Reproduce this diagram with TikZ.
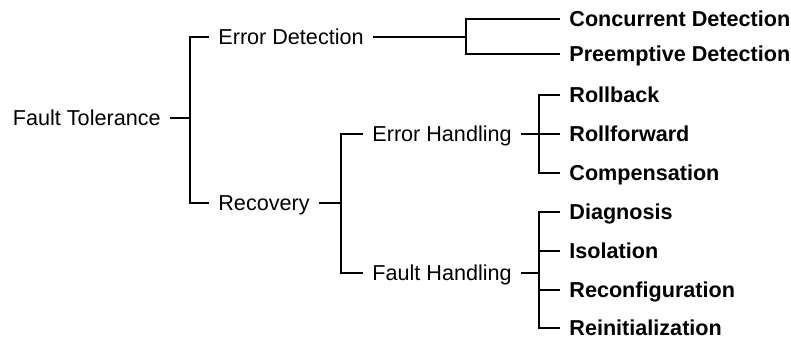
\documentclass[tikz,border=0pt]{standalone}
\usepackage{fontspec}
\setmainfont{Liberation Sans}
\usetikzlibrary{positioning}

\begin{document}
\begin{tikzpicture}[x = .5pt, y = -.5pt,
    lbl/.style = {font = \fontsize{10.8}{12}\selectfont, inner xsep = 4.5pt, inner ysep = 0pt, text height = 7.7pt, text depth = 0pt},
    mid/.style = {lbl, anchor = west},
    leaf/.style = {lbl, anchor = west, font = \fontsize{10.8}{12}\selectfont\bfseries},
    br/.style = {line width = .8pt}]
    \useasboundingbox (0,0) rectangle (791,340);
    \node[lbl, anchor = east] (ft) at (170,118) {Fault Tolerance};
    \node[mid] (ed) at (209,37) {Error Detection};
    \node[mid] (rec) at (209,203) {Recovery};
    \node[mid] (eh) at (363,134) {Error Handling};
    \node[mid] (fh) at (363,273) {Fault Handling};
    \node[leaf] (cd) at (560,19) {Concurrent Detection};
    \node[leaf] (pd) at (560,54) {Preemptive Detection};
    \node[leaf] (rb) at (560,95) {Rollback};
    \node[leaf] (rf) at (560,134) {Rollforward};
    \node[leaf] (cp) at (560,173) {Compensation};
    \node[leaf] (dg) at (560,212) {Diagnosis};
    \node[leaf] (is) at (560,251) {Isolation};
    \node[leaf] (rc) at (560,290) {Reconfiguration};
    \node[leaf] (ri) at (560,328) {Reinitialization};
    \coordinate (jft) at (190,118);
    \coordinate (jed) at (466,37);
    \coordinate (jrec) at (341,203);
    \coordinate (jeh) at (539,134);
    \coordinate (jfh) at (539,273);
    \draw[br] (ft) -- (jft);
    \draw[br] (ed) -| (jft);
    \draw[br] (rec) -| (jft);
    \draw[br] (ed) -- (jed);
    \draw[br] (cd) -| (jed);
    \draw[br] (pd) -| (jed);
    \draw[br] (rec) -- (jrec);
    \draw[br] (eh) -| (jrec);
    \draw[br] (fh) -| (jrec);
    \draw[br] (eh) -- (jeh);
    \draw[br] (rb) -| (jeh);
    \draw[br] (rf) -| (jeh);
    \draw[br] (cp) -| (jeh);
    \draw[br] (fh) -- (jfh);
    \draw[br] (dg) -| (jfh);
    \draw[br] (is) -| (jfh);
    \draw[br] (rc) -| (jfh);
    \draw[br] (ri) -| (jfh);
\end{tikzpicture}
\end{document}
